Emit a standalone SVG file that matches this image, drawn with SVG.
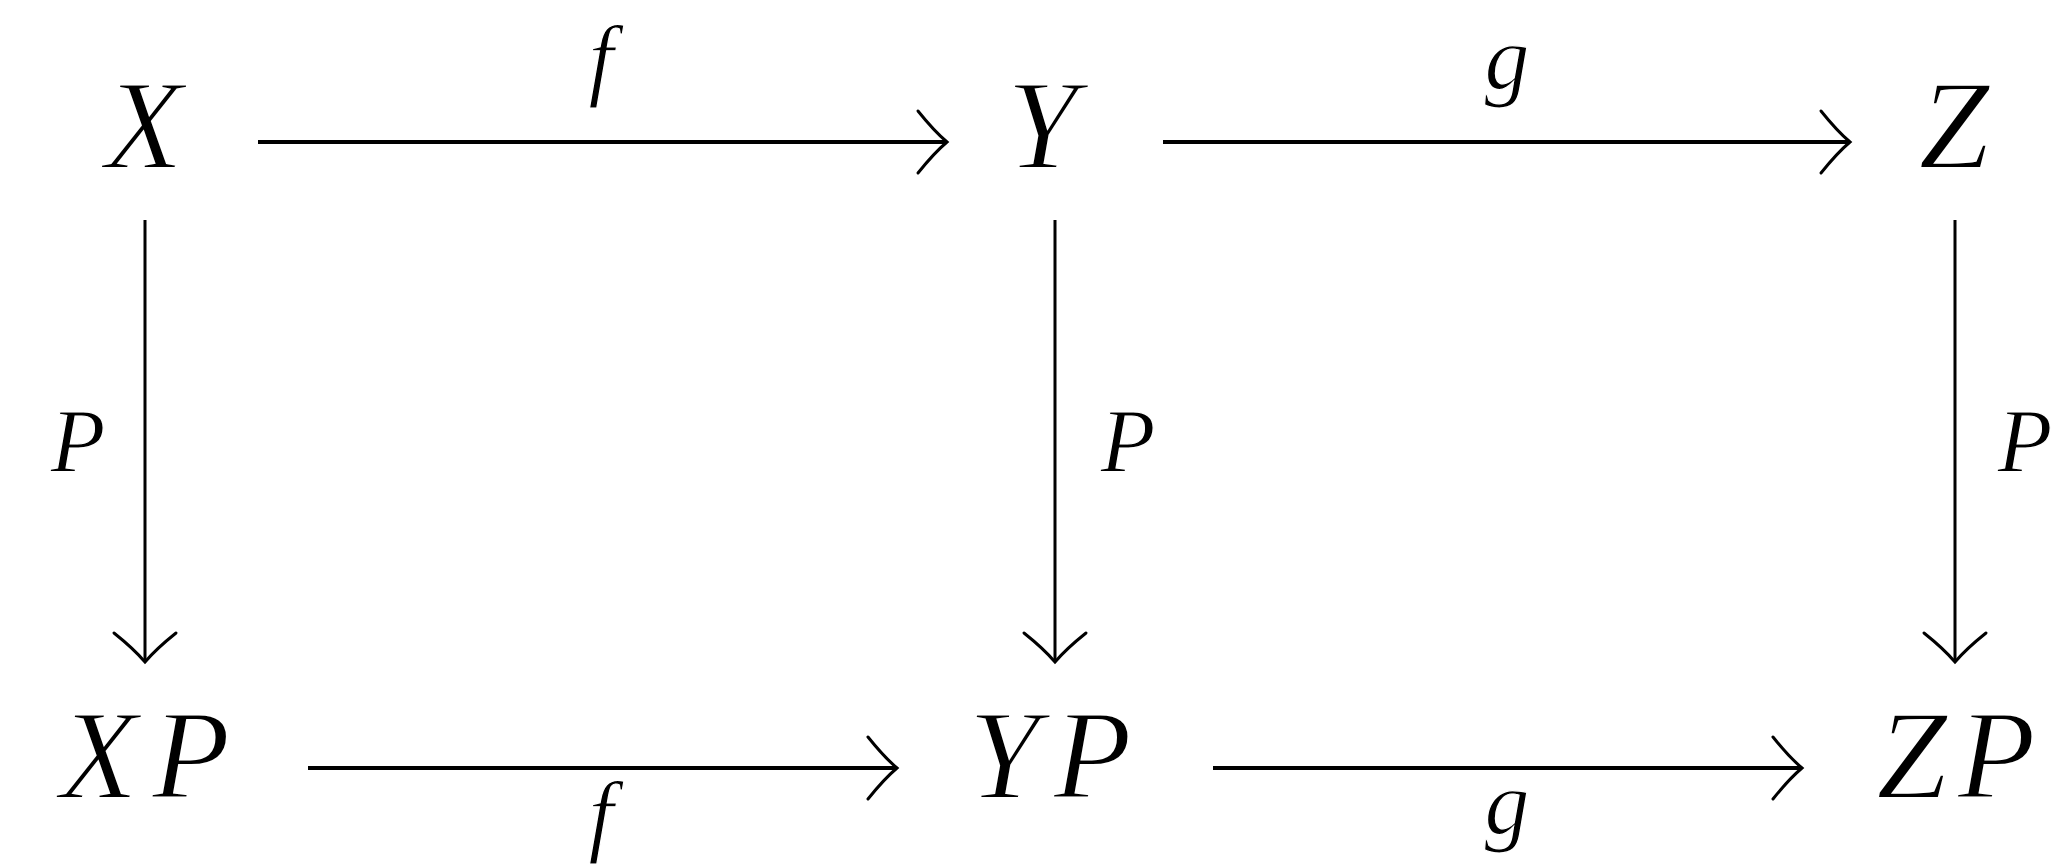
<svg xmlns="http://www.w3.org/2000/svg" width="2061" height="865" viewBox="0 0 2061 865">
<style>
.node{font-family:"Liberation Serif","Times New Roman",serif;font-style:italic;font-size:128px;fill:#000;stroke:#fff;stroke-width:2;text-anchor:middle}
.lbl{font-family:"Liberation Serif","Times New Roman",serif;font-style:italic;font-size:90px;fill:#000;stroke:#fff;stroke-width:1.2;text-anchor:middle}
.h{stroke:#000;stroke-width:4;fill:none;marker-end:url(#ah)}
.v{stroke:#000;stroke-width:3;fill:none;marker-end:url(#ah)}
</style>
<defs>
<marker id="ah" viewBox="-36 -36 40 72" refX="0" refY="0" markerWidth="40" markerHeight="72" orient="auto" markerUnits="userSpaceOnUse" overflow="visible">
<path d="M-29,-31 Q-13,-11 0,0 Q-13,11 -29,31" fill="none" stroke="#000" stroke-width="3" stroke-linecap="round"/>
</marker>
</defs>
<rect width="2061" height="865" fill="#fff"/>
<g id="connectors">
<line class="h" x1="258" y1="142" x2="947" y2="142"/>
<line class="h" x1="1163" y1="142" x2="1850" y2="142"/>
<line class="h" x1="308" y1="768" x2="897" y2="768"/>
<line class="h" x1="1213" y1="768" x2="1802" y2="768"/>
<line class="v" x1="145" y1="220" x2="145" y2="662"/>
<line class="v" x1="1055" y1="220" x2="1055" y2="662"/>
<line class="v" x1="1955" y1="220" x2="1955" y2="662"/>
<text class="lbl" x="601" y="89">f</text>
<text class="lbl" x="1507" y="89">g</text>
<text class="lbl" x="601" y="845">f</text>
<text class="lbl" x="1507" y="834">g</text>
<text class="lbl" x="78" y="472">P</text>
<text class="lbl" x="1128" y="472">P</text>
<text class="lbl" x="2025" y="472">P</text>
</g>
<g id="X"><text class="node" x="144" y="168">X</text></g>
<g id="Y"><text class="node" x="1042" y="168">Y</text></g>
<g id="Z"><text class="node" x="1954" y="168">Z</text></g>
<g id="XP"><text class="node" x="145" y="798">X<tspan dx="14">P</tspan></text></g>
<g id="YP"><text class="node" x="1050" y="798">Y<tspan dx="14">P</tspan></text></g>
<g id="ZP"><text class="node" x="1956" y="798">Z<tspan dx="10">P</tspan></text></g>
</svg>
